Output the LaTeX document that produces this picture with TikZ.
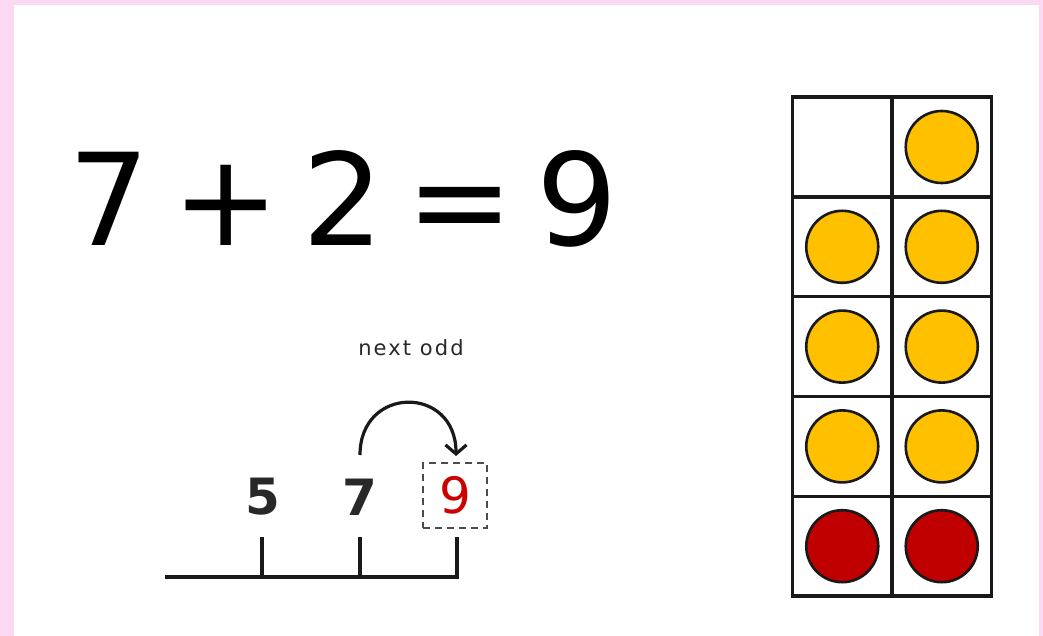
\documentclass[tikz,border=0pt]{standalone}
\usepackage{fontspec}
\setmainfont{DejaVu Sans}
\usetikzlibrary{arrows.meta}
\definecolor{pinkbg}{RGB}{251,217,243}
\definecolor{dotyellow}{RGB}{255,192,0}
\definecolor{dotred}{RGB}{192,0,0}
\definecolor{numred}{RGB}{204,0,0}
\definecolor{inkgray}{RGB}{40,40,40}
\tikzset{
  cell/.style={draw=black!90, line width=3.4pt, minimum width=99.5pt, minimum height=99.8pt, inner sep=0pt, outer sep=0pt},
  yellowdot/.style={circle, draw=black!90, line width=2.6pt, fill=dotyellow, minimum size=72pt, inner sep=0pt},
  reddot/.style={circle, draw=black!90, line width=2.6pt, fill=dotred, minimum size=72pt, inner sep=0pt},
  numlbl/.style={font=\fontsize{50}{55}\selectfont\bfseries, text=inkgray, inner sep=0pt},
  nlline/.style={line width=4.6pt, draw=black!90, line join=miter, line cap=butt},
  hop/.style={line width=3.2pt, draw=black!90, -{Straight Barb[length=9pt,width=21pt,line width=3.2pt]}},
}
\begin{document}
\begin{tikzpicture}[x=1pt,y=-1pt]
\useasboundingbox (0,0) rectangle (1043,636);
\fill[pinkbg] (0,0) rectangle (1043,636);
\fill[white] (14,5) rectangle (1039,636);

% equation
\node[font=\fontsize{128}{134}\selectfont, anchor=base, inner sep=0pt] (eq) at (343,246)
  {\makebox[117pt]{7}\makebox[117pt]{+}\makebox[117pt]{2}\makebox[117pt]{=}\makebox[117pt]{9}};

% ten frame
\foreach \r [evaluate=\r as \yy using 147+99.8*\r] in {0,...,4}{
  \node[cell] (cl\r) at (842.25,\yy) {};
  \node[cell] (cr\r) at (941.75,\yy) {};
}
\node[yellowdot] (d1) at (cr0) {};
\node[yellowdot] (d2) at (cl1) {};
\node[yellowdot] (d3) at (cr1) {};
\node[yellowdot] (d4) at (cl2) {};
\node[yellowdot] (d5) at (cr2) {};
\node[yellowdot] (d6) at (cl3) {};
\node[yellowdot] (d7) at (cr3) {};
\node[reddot] (d8) at (cl4) {};
\node[reddot] (d9) at (cr4) {};

% number line
\coordinate (nlstart) at (165,577);
\coordinate (tick5) at (262,537);
\coordinate (tick7) at (360,537);
\coordinate (tick9) at (457,537);
\draw[nlline] (nlstart) -| (tick9);
\draw[nlline] (tick5) -- (tick5 |- nlstart);
\draw[nlline] (tick7) -- (tick7 |- nlstart);

\node[numlbl] (n5) at (263,497) {5};
\node[numlbl] (n7) at (360,497) {7};
\node[font=\fontsize{50}{55}\selectfont, text=numred, draw=black!70, line width=2.6pt,
      dash pattern=on 7pt off 5pt, minimum width=64pt, minimum height=65pt, inner sep=0pt] (n9) at (455,495.5) {9};

% hop
\coordinate (hopstart) at (360,455);
\coordinate (hopend) at (456,456);
\draw[hop] (hopstart) .. controls (360,385) and (456,385) .. (hopend);
\node[font=\fontsize{21}{25}\selectfont\addfontfeature{LetterSpace=10}, text=inkgray] (lbl) at (411,348) {next odd};
\end{tikzpicture}
\end{document}
